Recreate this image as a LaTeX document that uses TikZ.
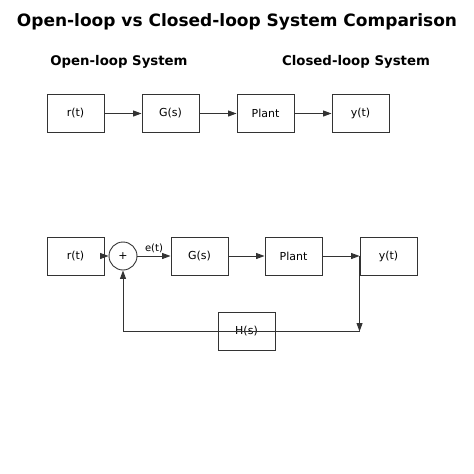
\documentclass[tikz,border=0pt]{standalone}
\usepackage{fontspec}
\setmainfont{DejaVu Sans}
\usetikzlibrary{arrows.meta,positioning}

\begin{document}
\begin{tikzpicture}[x=1pt, y=-1pt,
		every node/.style={font=\fontsize{11}{13}\selectfont},
		block/.style={draw=black!80, line width=0.9pt, minimum width=57pt, minimum height=38pt, inner sep=0pt},
		sumnode/.style={draw=black!80, line width=0.9pt, circle, minimum size=28pt, inner sep=0pt},
		heading/.style={font=\fontsize{13.3}{16}\selectfont\bfseries},
		flow/.style={draw=black!80, line width=0.9pt, -{Triangle[length=8.5pt,width=6pt]}},
		wire/.style={draw=black!80, line width=0.9pt}]
	\useasboundingbox (0,0) rectangle (474,474);
	\node[font=\fontsize{17}{20}\selectfont\bfseries] (title) at (237,22) {Open-loop vs Closed-loop System Comparison};
	\node[heading] (openhead) at (119,62) {Open-loop System};
	\node[heading] (closedhead) at (356,62) {Closed-loop System};
	% open loop
	\node[block] (or) at (75.5,113.5) {r(t)};
	\node[block, right=37.1pt of or] (og) {G(s)};
	\node[block, right=37.1pt of og] (op) {Plant};
	\node[block, right=37.1pt of op] (oy) {y(t)};
	\draw[flow] (or) -- (og);
	\draw[flow] (og) -- (op);
	\draw[flow] (op) -- (oy);
	% closed loop
	\node[block] (cr) at (75.5,256) {r(t)};
	\node[sumnode] (sum) at (123,256) {+};
	\node[block] (cg) at (199.5,256) {G(s)};
	\node[block] (cp) at (293.5,256) {Plant};
	\node[block] (cy) at (388.5,256) {y(t)};
	\node[block] (ch) at (246.5,331.5) {H(s)};
	\coordinate (down) at (cy.west |- ch);
	\coordinate (back) at (sum |- ch);
	\draw[flow] (cr) -- (sum);
	\draw[flow] (sum) -- node[above=-1pt, font=\fontsize{10}{12}\selectfont] {e(t)} (cg);
	\draw[flow] (cg) -- (cp);
	\draw[flow] (cp) -- (cy);
	\draw[flow] (cy.west) -- (down);
	\draw[wire] (down) -- (back);
	\draw[flow] (back) -- (sum);
\end{tikzpicture}
\end{document}
